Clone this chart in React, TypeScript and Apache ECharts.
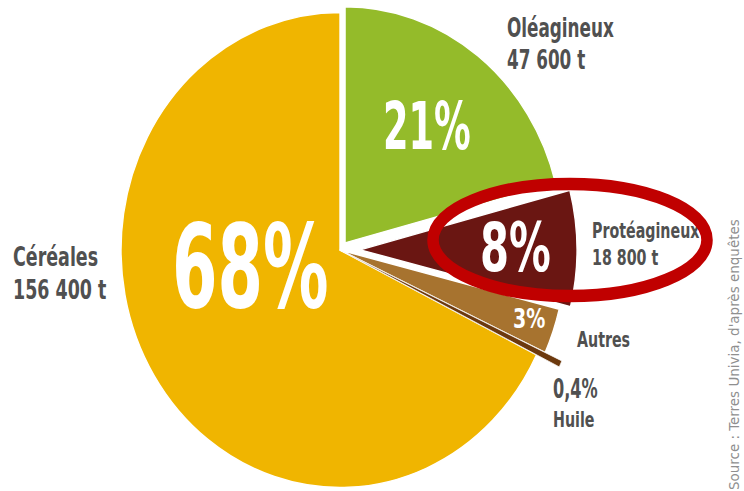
import React, { useEffect, useRef } from "react";
import * as echarts from "echarts";

// ---- data ----
const categories = ["Oléagineux", "Protéagineux", "Autres", "Huile", "Céréales"];
const shares = [21, 8, 3, 0.4, 68]; // %
const tonnages = [47600, 18800, null, null, 156400]; // t
const sourceText = "Source : Terres Univia, d'après enquêtes";

// ---- styling ----
const colors = ["#94bb2a", "#6a1612", "#a7732f", "#6c390e", "#f0b500"];
const radii = [236, 235, 245, 265, 237.5];
const borders = [1.5, 1.5, 1.5, 0.8, 1.5];
const offsets = [9, 22, 0, 0, 0];
const drawOrder = [4, 0, 1, 2, 3];

const SX = 0.922; // the original picture is squeezed horizontally
const W = 744;
const H = 491;
const CW = Math.round(W / SX);
const CX = 340 / SX;
const CY = 250;
const NARROW = '"Liberation Sans Narrow", "Arial Narrow", "DejaVu Sans Condensed", sans-serif';
const GREY = "#505050";
const NAME_SCALE = 0.78;

const fmtT = (n: number) => String(n).replace(/\B(?=(\d{3})+(?!\d))/g, " ") + " t";
const fmtPct = (v: number) => String(v).replace(".", ",") + "%";

export default function App() {
  const ref = useRef<HTMLDivElement>(null);
  useEffect(() => {
    if (!ref.current) return;
    const chart = echarts.init(ref.current, null, { renderer: "svg" });

    const series = drawOrder.map((k) => ({
      type: "pie",
      center: [CX, CY],
      radius: [0, radii[k]],
      startAngle: 90,
      clockwise: true,
      silent: true,
      selectedMode: offsets[k] ? "single" : false,
      selectedOffset: offsets[k],
      label: { show: false },
      labelLine: { show: false },
      emphasis: { disabled: true },
      data: categories.map((name, i) => ({
        name,
        value: shares[i],
        selected: i === k && offsets[k] > 0,
        itemStyle:
          i === k
            ? { color: colors[i], borderColor: "#ffffff", borderWidth: borders[i] }
            : { color: "transparent", borderWidth: 0 },
      })),
    }));

    const pctText = (
      i: number,
      x: number,
      y: number,
      size: number,
      fill: string,
      scale: number
    ) => ({
      type: "text",
      x,
      y,
      scaleX: scale,
      z: 10,
      style: {
        text: fmtPct(shares[i]),
        fill,
        font: `bold ${size}px ${NARROW}`,
        textAlign: "left",
        textVerticalAlign: "middle",
      },
    });
    const nameText = (str: string, x: number, y: number, size: number) => ({
      type: "text",
      x,
      y,
      scaleX: NAME_SCALE,
      z: 10,
      style: {
        text: str,
        fill: GREY,
        font: `bold ${size}px ${NARROW}`,
        textAlign: "left",
        textVerticalAlign: "middle",
      },
    });

    const graphic = [
      pctText(4, 172 / SX, 266.5, 116, "#ffffff", 0.68),
      pctText(0, 383 / SX, 126.5, 66, "#ffffff", 0.67),
      pctText(1, 480 / SX, 247.5, 68, "#ffffff", 0.74),
      pctText(2, 513 / SX, 319, 27, "#ffffff", 0.85),
      pctText(3, 553 / SX, 388.5, 27, GREY, 0.72),
      nameText(categories[0], 507 / SX, 28, 26),
      nameText(fmtT(tonnages[0] as number), 507 / SX, 60, 26),
      nameText(categories[4], 13 / SX, 257, 27),
      nameText(fmtT(tonnages[4] as number), 13 / SX, 290, 27),
      nameText(categories[1], 592 / SX, 230.5, 22),
      nameText(fmtT(tonnages[1] as number), 592 / SX, 257.5, 22),
      nameText(categories[2], 577 / SX, 339.5, 22),
      nameText(categories[3], 553 / SX, 419.5, 22),
      {
        type: "ellipse",
        z: 20,
        shape: { cx: 570 / SX, cy: 240, rx: 137 / SX, ry: 56 },
        style: { fill: "none", stroke: "#c00000", lineWidth: 12.5 },
      },
      {
        type: "text",
        x: 734 / SX,
        y: 490,
        rotation: Math.PI / 2,
        z: 10,
        style: {
          text: sourceText,
          fill: "#8f8f8f",
          font: `15px ${NARROW}`,
          textAlign: "left",
          textVerticalAlign: "middle",
        },
      },
    ];

    chart.setOption({
      animation: false,
      backgroundColor: "#ffffff",
      series,
      graphic,
    } as any);
    return () => chart.dispose();
  }, []);

  return (
    <div
      style={{
        position: "fixed",
        left: 0,
        top: 0,
        width: W,
        height: H,
        overflow: "hidden",
        background: "#ffffff",
      }}
    >
      <div
        ref={ref}
        style={{
          width: CW,
          height: H,
          transform: `scaleX(${SX})`,
          transformOrigin: "0 0",
        }}
      />
    </div>
  );
}
